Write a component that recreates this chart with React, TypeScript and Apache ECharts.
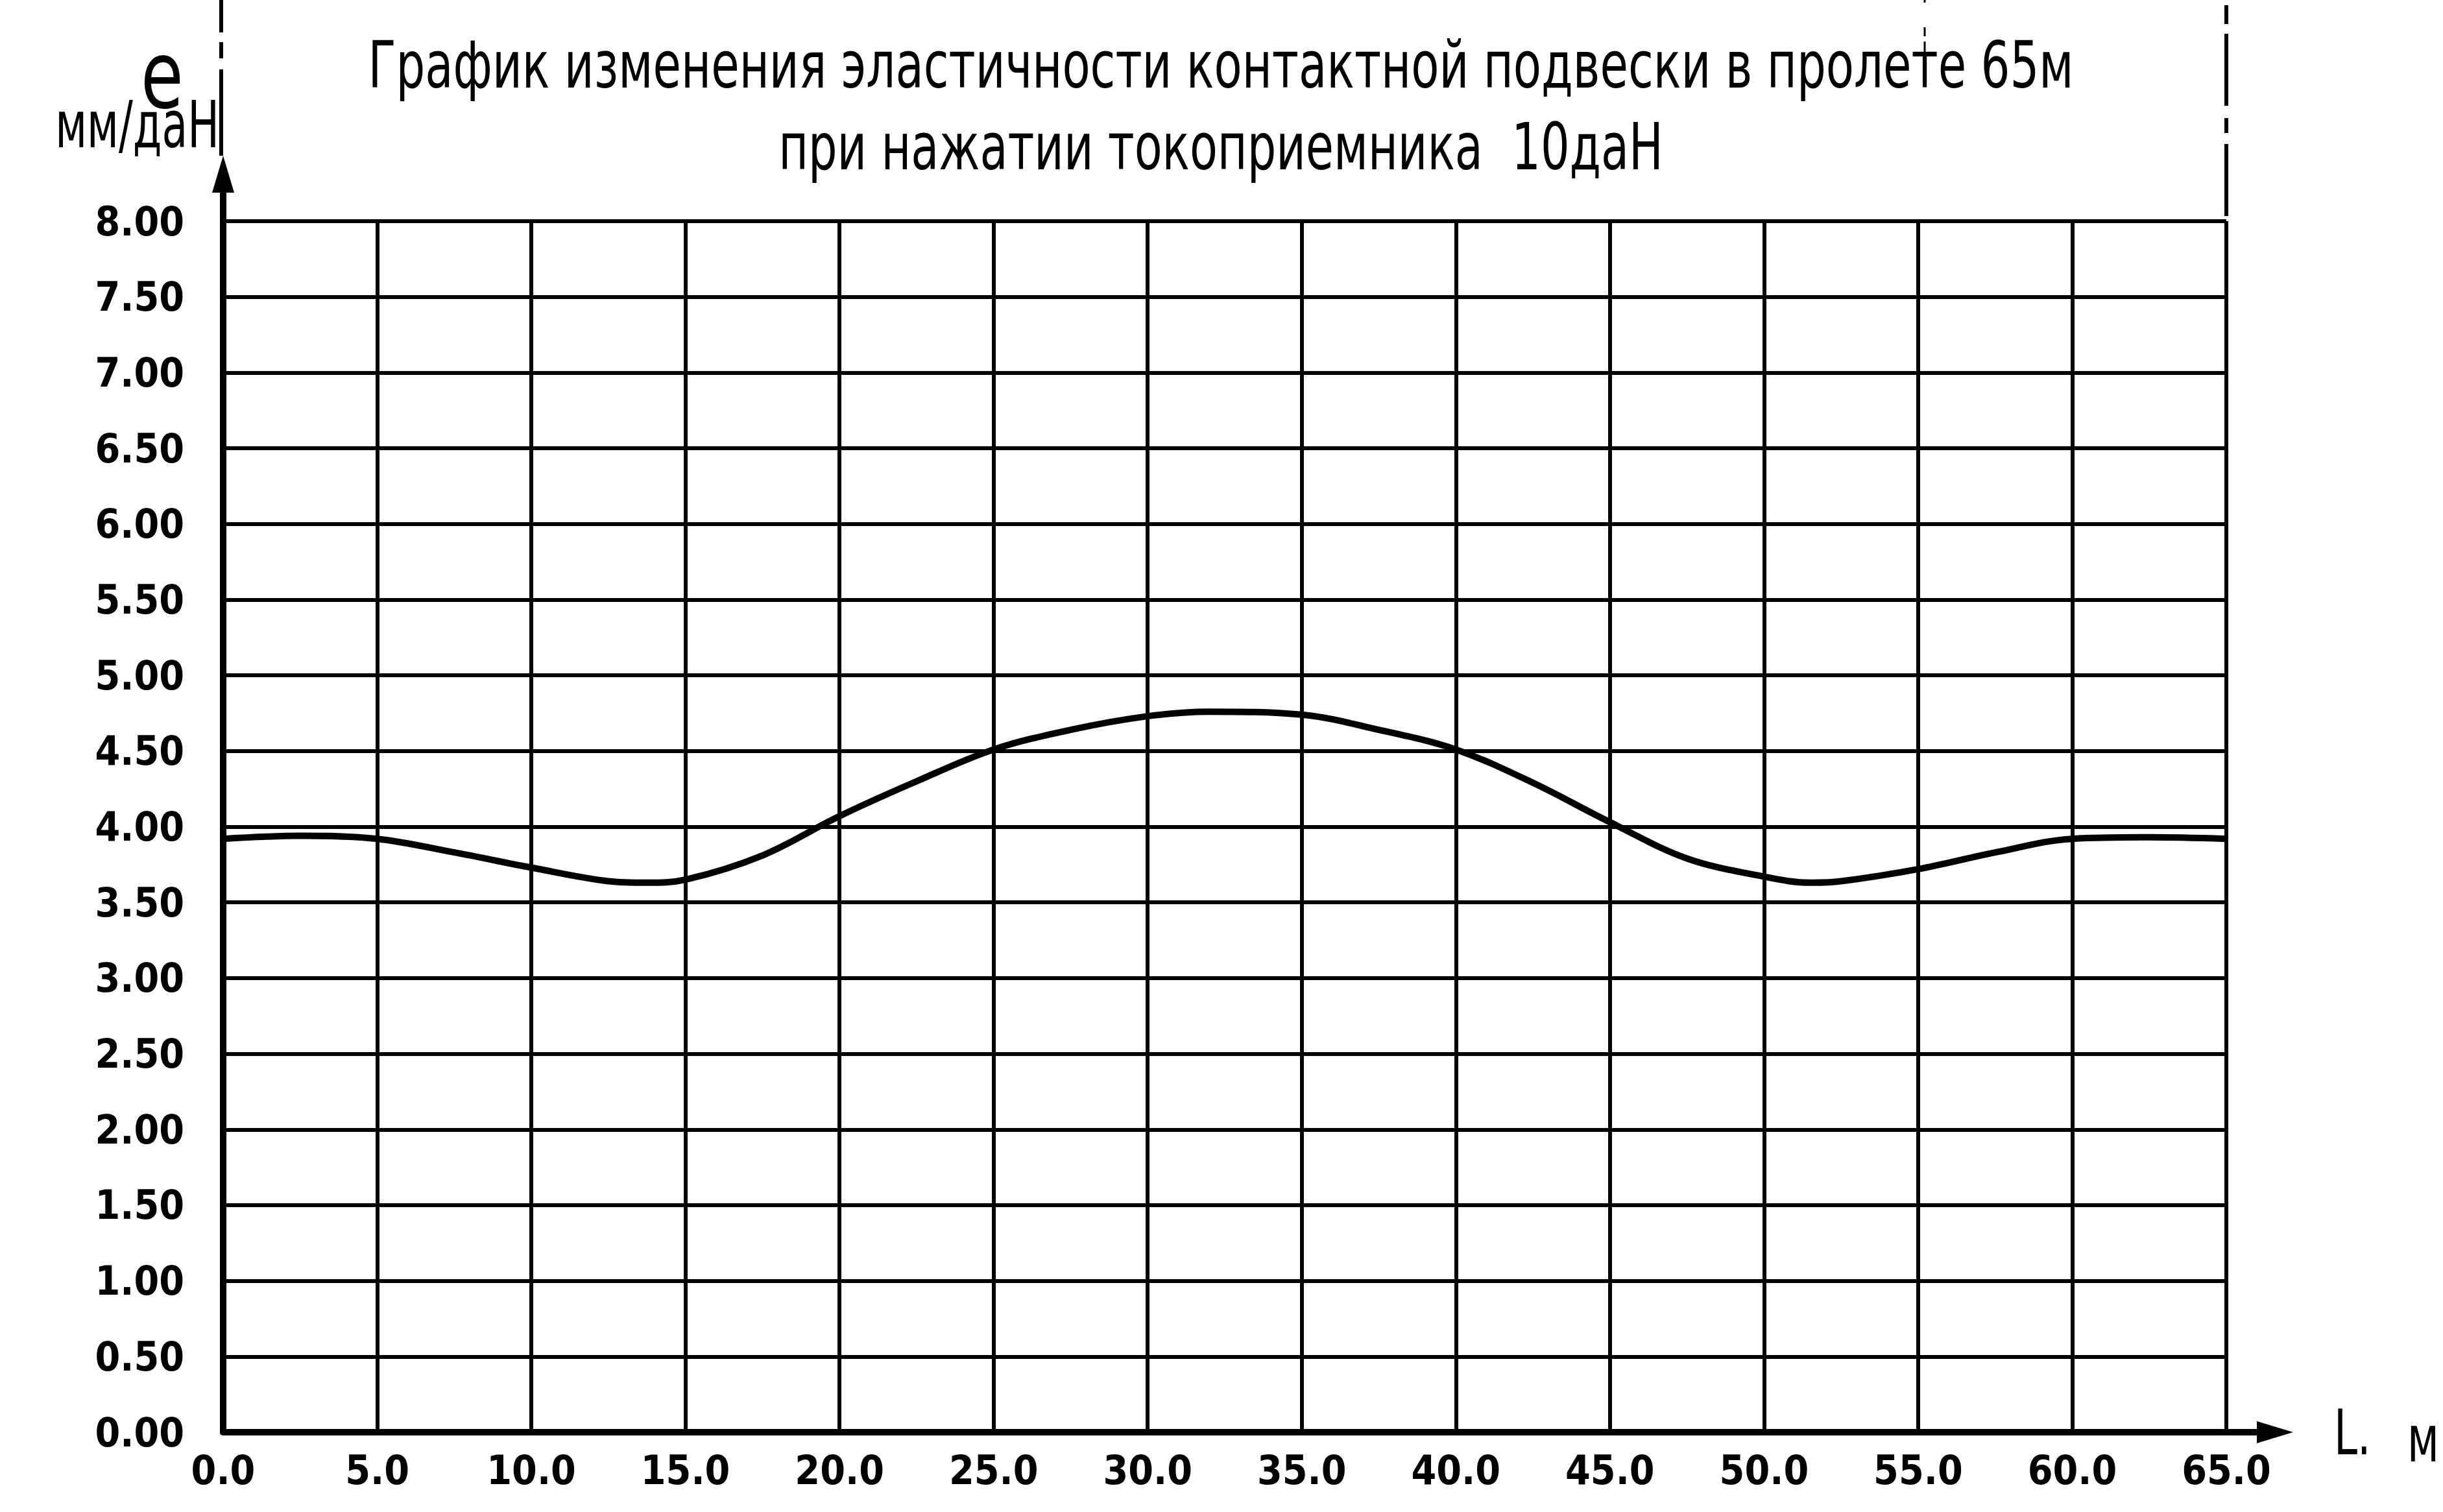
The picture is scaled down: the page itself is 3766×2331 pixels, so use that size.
import React, { useEffect, useRef } from "react";
import * as echarts from "echarts";

// ---- data ----
const titleLines = [
  "График изменения эластичности контактной подвески в пролете 65м",
  "при нажатии токоприемника  10даН",
];
const yAxisSymbol = "e";
const yAxisUnit = "мм/даН";
const xAxisSymbol = "L.";
const xAxisUnit = "м";

const spanPosition = [
  0, 2.5, 5, 7.5, 10, 12.5, 13.75, 15, 17.5, 20, 22.5, 25, 27.5, 30, 32, 35,
  37.5, 40, 42.5, 45, 47.5, 50, 51.5, 52.5, 55, 57.5, 60, 62.5, 65,
];
const elasticity = [
  3.92, 3.94, 3.92, 3.83, 3.73, 3.64, 3.63, 3.65, 3.81, 4.07, 4.3, 4.51, 4.64,
  4.73, 4.76, 4.74, 4.64, 4.51, 4.29, 4.03, 3.79, 3.67, 3.63, 3.64, 3.72, 3.83,
  3.92, 3.93, 3.92,
];
const xMin = 0;
const xMax = 65;
const xStep = 5;
const yMin = 0;
const yMax = 8;
const yStep = 0.5;

const FONT =
  "'Liberation Sans Narrow', 'DejaVu Sans Condensed', 'DejaVu Sans', sans-serif";
const W = 3766;
const H = 2331;

export default function App() {
  const ref = useRef<HTMLDivElement>(null);
  useEffect(() => {
    if (!ref.current) return;
    const chart = echarts.init(ref.current, undefined, {
      renderer: "svg",
      width: W,
      height: H,
    });
    const option: any = {
      animation: false,
      backgroundColor: "#ffffff",
      grid: { left: 344, right: 334, top: 341, bottom: 123 },
      xAxis: {
        type: "value",
        min: xMin,
        max: xMax,
        interval: xStep,
        axisLine: { show: true, onZero: false, lineStyle: { color: "#000", width: 10 } },
        axisTick: { show: false },
        axisLabel: {
          formatter: (v: number) => v.toFixed(1),
          color: "#000",
          fontFamily: FONT,
          fontWeight: "bold",
          fontSize: 62,
          margin: 27,
        },
        splitLine: { show: true, lineStyle: { color: "#000", width: 6 } },
      },
      yAxis: {
        type: "value",
        min: yMin,
        max: yMax,
        interval: yStep,
        axisLine: { show: true, onZero: false, lineStyle: { color: "#000", width: 10 } },
        axisTick: { show: false },
        axisLabel: {
          formatter: (v: number) => v.toFixed(2),
          color: "#000",
          fontFamily: FONT,
          fontWeight: "bold",
          fontSize: 62,
          margin: 60,
        },
        splitLine: { show: true, lineStyle: { color: "#000", width: 6 } },
      },
      series: [
        {
          type: "line",
          data: spanPosition.map((x, i) => [x, elasticity[i]]),
          smooth: 0.35,
          symbol: "none",
          lineStyle: { color: "#000", width: 10 },
          z: 5,
        },
      ],
    };
    chart.setOption(option);

    const [x0, y0] = chart.convertToPixel({ gridIndex: 0 }, [xMin, yMin]) as number[];
    const [x1, y1] = chart.convertToPixel({ gridIndex: 0 }, [xMax, yMax]) as number[];
    const cx = (x0 + x1) / 2;
    const black = "#000";

    chart.setOption({
      graphic: [
        // title
        {
          type: "text",
          x: cx - 6,
          y: 101,
          scaleX: 0.785,
          style: {
            text: titleLines[0],
            fill: black,
            font: `100px ${FONT}`,
            align: "center",
            verticalAlign: "middle",
          },
        },
        {
          type: "text",
          x: cx - 6,
          y: 226,
          scaleX: 0.78,
          style: {
            text: titleLines[1],
            fill: black,
            font: `100px ${FONT}`,
            align: "center",
            verticalAlign: "middle",
          },
        },
        // y axis extension + arrow
        {
          type: "line",
          shape: { x1: x0, y1: y1, x2: x0, y2: y1 - 50 },
          style: { stroke: black, lineWidth: 10 },
        },
        {
          type: "polygon",
          shape: {
            points: [
              [x0 - 17, y1 - 44],
              [x0 + 17, y1 - 44],
              [x0, y1 - 101],
            ],
          },
          style: { fill: black },
        },
        {
          type: "line",
          shape: { x1: x0 - 3, y1: y1 - 101, x2: x0 - 3, y2: 107 },
          style: { stroke: black, lineWidth: 6 },
        },
        {
          type: "line",
          shape: { x1: x0 - 3, y1: 0, x2: x0 - 3, y2: 92 },
          style: { stroke: black, lineWidth: 6, lineDash: [50, 15, 25, 17] },
        },
        // right frame dash-dot line
        {
          type: "line",
          shape: { x1: x1, y1: 8, x2: x1, y2: y1 },
          style: { stroke: black, lineWidth: 6, lineDash: [29, 15, 111, 19, 23, 17, 111, 17] },
        },
        // thin construction line near title
        {
          type: "line",
          shape: { x1: 2967, y1: 0, x2: 2967, y2: 97 },
          style: { stroke: black, lineWidth: 3, lineDash: [4, 38, 14, 8, 40] },
        },
        // x axis extension + arrow
        {
          type: "line",
          shape: { x1: x1, y1: y0, x2: x1 + 50, y2: y0 },
          style: { stroke: black, lineWidth: 10 },
        },
        {
          type: "polygon",
          shape: {
            points: [
              [x1 + 47, y0 - 17],
              [x1 + 47, y0 + 17],
              [x1 + 103, y0],
            ],
          },
          style: { fill: black },
        },
        // axis names
        {
          type: "text",
          x: x0 - 94,
          y: 116,
          scaleX: 0.82,
          style: {
            text: yAxisSymbol,
            fill: black,
            font: `145px ${FONT}`,
            align: "center",
            verticalAlign: "middle",
          },
        },
        {
          type: "text",
          x: x0 - 6,
          y: 193,
          scaleX: 0.72,
          style: {
            text: yAxisUnit,
            fill: black,
            font: `100px ${FONT}`,
            align: "right",
            verticalAlign: "middle",
          },
        },
        {
          type: "text",
          x: x1 + 166,
          y: 2209,
          scaleX: 0.75,
          style: {
            text: xAxisSymbol,
            fill: black,
            font: `96px ${FONT}`,
            align: "left",
            verticalAlign: "middle",
          },
        },
        {
          type: "text",
          x: x1 + 279,
          y: 2219,
          scaleX: 0.72,
          style: {
            text: xAxisUnit,
            fill: black,
            font: `100px ${FONT}`,
            align: "left",
            verticalAlign: "middle",
          },
        },
      ],
    });

    return () => chart.dispose();
  }, []);
  return (
    <div
      ref={ref}
      style={{ position: "absolute", left: 0, top: 0, width: W, height: H }}
    />
  );
}
